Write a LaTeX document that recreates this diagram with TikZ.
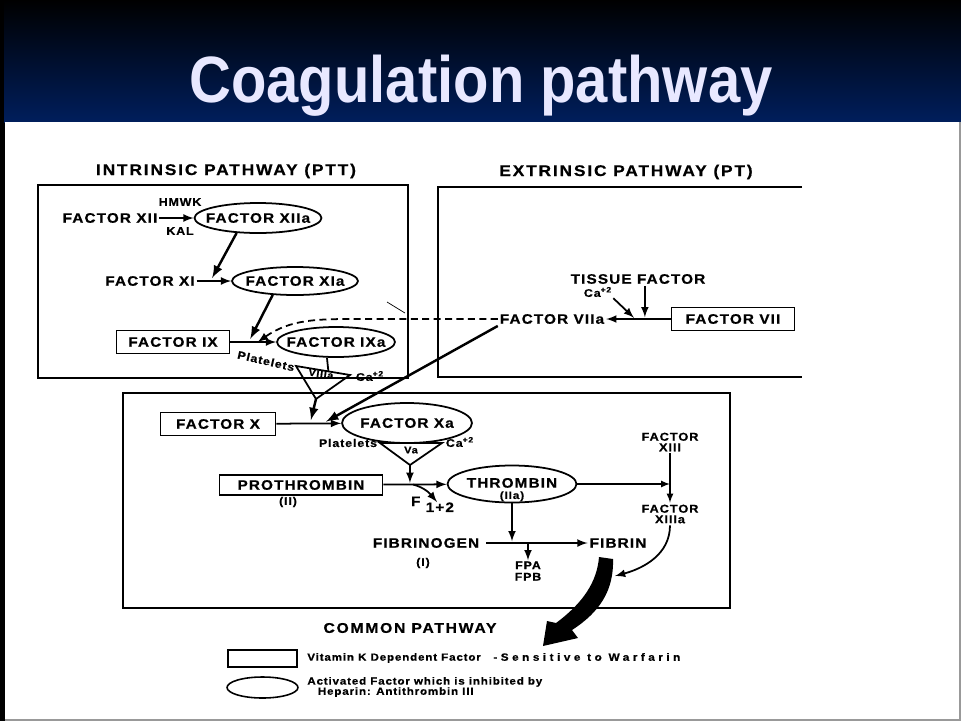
\documentclass[tikz,border=0pt]{standalone}
\usepackage{graphicx}
\usepackage{fontspec}
\setmainfont{Liberation Sans}
\newfontfamily\labelFont{Liberation Sans}[LetterSpace=8, FakeStretch=1.12, FakeBold=0.6]
\newfontfamily\headFont{Liberation Sans}[LetterSpace=12, FakeStretch=1.12, FakeBold=0.6]
\newfontfamily\spreadFont{Liberation Sans}[LetterSpace=33, FakeStretch=1.12, FakeBold=0.6]
\usetikzlibrary{arrows, shapes.geometric, calc, positioning}
\definecolor{headerNavy}{RGB}{0,30,92}
\definecolor{titleLilac}{RGB}{232,232,255}
\tikzset{
    factorTxt/.style={font=\labelFont\bfseries\fontsize{7.8}{8.5}\selectfont, inner sep=1pt, align=center},
    xiiiTxt/.style={font=\labelFont\bfseries\fontsize{6.5}{6}\selectfont, inner sep=1pt, align=center},
    headTxt/.style={font=\headFont\bfseries\fontsize{8.8}{9}\selectfont, inner sep=0pt},
    smallTxt/.style={font=\labelFont\bfseries\fontsize{6.3}{6.5}\selectfont, inner sep=0.5pt, align=center},
    legendTxt/.style={font=\labelFont\bfseries\fontsize{5.9}{5.8}\selectfont, inner sep=0pt, align=left},
    factorBox/.style={factorTxt, draw, rectangle, line width=1pt},
    factorOval/.style={factorTxt, draw, ellipse, line width=1pt, inner sep=0pt},
    panel/.style={line width=1.1pt},
    flow/.style={->, >=latex, line width=1pt},
    flowThin/.style={->, >=latex, line width=0.75pt},
    flowThick/.style={->, >=latex, line width=1.4pt},
    flowDash/.style={->, >=latex, line width=1pt, dash pattern=on 4pt off 2.5pt},
    plainLine/.style={line width=1pt},
}
\newcommand{\ovalLabel}[1]{\makebox[0pt]{#1}}

\begin{document}
\begin{tikzpicture}[x=0.02cm, y=0.02cm]
    \useasboundingbox (0,0) rectangle (961,-721);
    % slide background
    \fill[black] (0,0) rectangle (961,-721);
    \shade[top color=black, bottom color=headerNavy] (4,0) rectangle (961,-122);
    \fill[white] (5,-122) rectangle (959,-719);
    \fill[black!40] (959,-122) rectangle (961,-721);
    \fill[black!40] (5,-719) rectangle (961,-721);
    \node[font=\bfseries\fontsize{33}{33}\selectfont, text=titleLilac, anchor=base] (title) at (481,-102) {\scalebox{1}[1.13]{Coagulation pathway}};

    % panels
    \node[headTxt] (intTitle) at (226,-171) {INTRINSIC PATHWAY (PTT)};
    \node[headTxt] (extTitle) at (626,-172) {EXTRINSIC PATHWAY (PT)};
    \draw[panel] (38,-185) rectangle (408,-378);
    \draw[panel] (802,-187) -- (438,-187) -- (438,-377) -- (802,-377);
    \draw[panel] (123,-393) rectangle (730,-608);
    \node[headTxt, font=\headFont\bfseries\fontsize{8}{9}\selectfont] (comTitle) at (410,-628) {COMMON PATHWAY};

    % intrinsic
    \node[factorTxt] (f12) at (110,-218) {FACTOR XII};
    \node[factorOval, minimum width=2.54cm, minimum height=0.6cm] (f12a) at (258,-218) {\ovalLabel{FACTOR XIIa}};
    \node[smallTxt] (hmwk) at (180,-202) {HMWK};
    \node[smallTxt] (kal) at (180,-231) {KAL};
    \node[factorTxt] (f11) at (150,-281) {FACTOR XI};
    \node[factorOval, minimum width=2.52cm, minimum height=0.56cm] (f11a) at (295,-281) {\ovalLabel{FACTOR XIa}};
    \node[factorBox, minimum width=2.26cm, minimum height=0.46cm] (f9) at (173,-342) {FACTOR IX};
    \node[factorOval, minimum width=2.36cm, minimum height=0.6cm] (f9a) at (336,-342) {\ovalLabel{FACTOR IXa}};
    \coordinate (t8L) at (296,-366);
    \coordinate (t8R) at (350,-375);
    \coordinate (t8B) at (316,-399);
    \coordinate (t8T) at ($(t8L)!0.6!(t8R)$);
    \draw[plainLine] (t8L) -- (t8R) -- (t8B) -- cycle;
    \node[smallTxt, font=\labelFont\bfseries\fontsize{5.4}{6}\selectfont, rotate=-8] (f8a) at (321,-374) {VIIIa};
    \node[smallTxt, rotate=-13] (plt8) at (266,-361) {Platelets};
    \node[smallTxt] (ca8) at (370,-376) {Ca\textsuperscript{+2}};

    % extrinsic
    \node[factorTxt] (tf) at (638,-279) {TISSUE FACTOR};
    \node[smallTxt] (caT) at (598,-292) {Ca\textsuperscript{+2}};
    \node[factorTxt] (f7a) at (552,-319) {FACTOR VIIa};
    \node[factorBox, minimum width=2.46cm, minimum height=0.46cm] (f7) at (733,-319) {FACTOR VII};

    % common
    \node[factorBox, minimum width=2.3cm, minimum height=0.46cm] (f10) at (218,-424) {FACTOR X};
    \node[factorOval, minimum width=2.6cm, minimum height=0.8cm] (f10a) at (407,-423) {\ovalLabel{FACTOR Xa}};
    \coordinate (t5L) at (380,-443);
    \coordinate (t5R) at (442,-443);
    \coordinate (t5B) at (410,-465);
    \draw[plainLine] (t5L) -- (t5R) -- (t5B) -- cycle;
    \node[smallTxt, font=\labelFont\bfseries\fontsize{5.6}{6}\selectfont] (va) at (411,-450) {Va};
    \node[smallTxt] (pltV) at (348,-443) {Platelets};
    \node[smallTxt] (caV) at (460,-442) {Ca\textsuperscript{+2}};
    \node[factorBox, minimum width=3.26cm, minimum height=0.4cm] (pro) at (301,-485) {PROTHROMBIN};
    \node[smallTxt] (proII) at (288,-502) {(II)};
    \node[factorOval, minimum width=2.58cm, minimum height=0.74cm] (thr) at (512,-484) {\ovalLabel{\smash{\raisebox{-8.5pt}{\shortstack{THROMBIN\\[-1pt]{\fontsize{6}{6}\selectfont (IIa)}}}}}};
    \node[factorTxt, anchor=base west] (frag) at (409,-506) {F\hspace{3pt}\raisebox{-3.4pt}{1+2}};
    \coordinate (fragEnd) at (437,-502);
    \node[xiiiTxt] (f13) at (670,-442) {FACTOR\\XIII};
    \node[xiiiTxt] (f13a) at (670,-514) {FACTOR\\XIIIa};
    \node[factorTxt] (fibg) at (426,-543) {FIBRINOGEN};
    \node[smallTxt] (fibgI) at (423,-563) {(I)};
    \node[factorTxt] (fib) at (618,-543) {FIBRIN};
    \node[smallTxt] (fp) at (528,-571) {FPA\\FPB};
    \coordinate (xlinkEnd) at (615,-576);

    % junctions on the reaction lines
    \coordinate (j11) at ($(f11.east)!0.4!(f11a.west)$);
    \coordinate (j9a) at ($(f9.east)!0.4!(f9a.west)$);
    \coordinate (j9b) at ($(f9.east)!0.6!(f9a.west)$);
    \coordinate (jCa) at ($(f7a.east)!0.45!(f7.west)$);
    \coordinate (jTF) at ($(f7a.east)!0.6!(f7.west)$);
    \coordinate (j10a) at ($(f10.east)!0.52!(f10a.west)$);
    \coordinate (j10b) at ($(f10.east)!0.72!(f10a.west)$);
    \coordinate (jPro) at ($(pro.east)!0.42!(thr.west)$);
    \coordinate (jFrag) at ($(pro.east)!0.47!(thr.west)$);

    % reactions
    \draw[flow] (f12) -- (f12a);
    \draw[flowThick, shorten >=2pt] (f12a.215) -- (j11);
    \draw[flow] (f11) -- (f11a);
    \draw[flowThick, shorten >=2pt] (f11a.212) -- (j9a);
    \draw[flow] (f9) -- (f9a);
    \draw[plainLine] (f9a.240) -- (t8T);
    \draw[flow] (f7.west) -- (f7a.east);
    \draw[flow, shorten >=1pt] (tf.south -| jTF) -- (jTF);
    \draw[flow, shorten >=1pt] (caT.south east) -- (jCa);
    \draw[flowDash] (f7a.west) -- ++(-140,0) to[out=180, in=35] (j9b);
    \draw[thin] (387,-302) -- (405,-313);
    \draw[flowThick, shorten >=2pt] (t8B) -- (j10a);
    \draw[flowThick, shorten >=2pt] (f7a.south west) -- (j10b);
    \draw[flow] (f10) -- (f10a);
    \draw[flow, shorten >=1pt] (t5B) -- (jPro);
    \draw[flow] (pro) -- (thr);
    \draw[flow] (jFrag) to[out=-15, in=130] (fragEnd);
    \draw[flowThin] (thr) -- (thr.east -| f13.south);
    \draw[flowThin] (f13) -- (f13a);
    \draw[flow, shorten >=1pt] (thr.south) -- (thr.south |- fibg.east);
    \draw[flow, shorten <=3pt] (fibg) -- (fib);
    \draw[flow] (fp.north |- fibg.east) -- (fp.north);
    \draw[flow] (f13a.south) to[out=-90, in=15] (xlinkEnd);

    % big arrow out of the common pathway
    \fill[black] (599,-557) -- (613,-559) .. controls (614,-590) and (600,-612) .. (572,-630)
        -- (578,-638) -- (543,-646) -- (547,-621) -- (556,-623)
        .. controls (583,-603) and (597,-582) .. (599,-557) -- cycle;

    % key
    \node[draw, rectangle, line width=0.9pt, minimum width=1.38cm, minimum height=0.34cm] (keyBox) at (262.5,-658.5) {};
    \node[legendTxt, anchor=west] (keyBoxTxt) at (307,-658) {Vitamin K Dependent Factor};
    \node[anchor=west, inner sep=0pt, font=\spreadFont\bfseries\fontsize{6}{6}\selectfont] (warf) at (493,-657) {-Sensitive to Warfarin};
    \node[draw, ellipse, line width=0.9pt, minimum width=1.42cm, minimum height=0.42cm, inner sep=0pt] (keyOval) at (262.5,-687.5) {};
    \node[legendTxt, anchor=west] (keyOvalTxt) at (307,-687) {Activated Factor which is inhibited by\\\hspace*{6pt}Heparin: Antithrombin III};
\end{tikzpicture}
\end{document}
